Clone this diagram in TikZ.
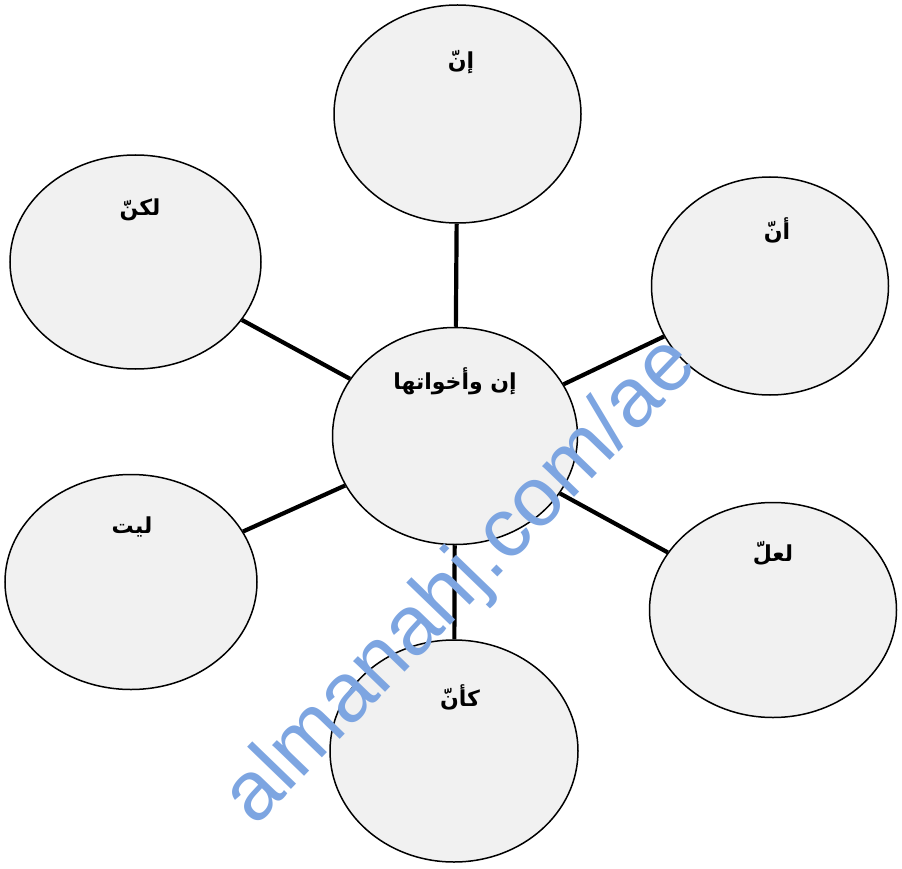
\documentclass[tikz,border=0pt]{standalone}
\usepackage{fontspec}
\usetikzlibrary{shapes.geometric}
\setmainfont{Liberation Sans}
\newfontfamily\arabicfont[Script=Arabic]{DejaVu Sans}
\TeXXeTstate=1
\definecolor{wm}{RGB}{125,165,225}
\definecolor{bub}{RGB}{241,241,241}
\begin{document}
\begin{tikzpicture}[x=1pt,y=-1pt,
  bubble/.style={ellipse, draw=black, line width=1.5pt, fill=bub, inner sep=0pt},
  link/.style={line width=4.2pt},
  lbl/.style={font=\arabicfont\bfseries\fontsize{22}{26}\selectfont, inner sep=0pt}]
\useasboundingbox (0,0) rectangle (902,869);
\fill[white] (0,0) rectangle (902,869);
% bubbles
\node[bubble, minimum width=247pt, minimum height=218pt] (t)  at (457.5,114) {};
\node[bubble, minimum width=251pt, minimum height=214pt] (ul) at (135.5,262) {};
\node[bubble, minimum width=237pt, minimum height=218pt] (ur) at (770,286) {};
\node[bubble, minimum width=245pt, minimum height=217pt] (c)  at (455,436) {};
\node[bubble, minimum width=252pt, minimum height=215pt] (ll) at (131,582) {};
\node[bubble, minimum width=247pt, minimum height=215pt] (lr) at (773,610) {};
\node[bubble, minimum width=248pt, minimum height=222pt] (b)  at (454,751) {};
% connectors
\draw[link] (c) -- (t);
\draw[link] (c) -- (ul);
\draw[link] (c) -- (ur);
\draw[link] (c) -- (ll);
\draw[link] (c) -- (lr);
\draw[link] (c) -- (b);
% labels
\node[lbl] (tl)  at (461,62)  {\beginR إنّ\endR};
\node[lbl] (ull) at (140,210) {\beginR لكنّ\endR};
\node[lbl] (url) at (777,230) {\beginR أنّ\endR};
\node[lbl] (cl)  at (455,381) {\beginR إن وأخواتها\endR};
\node[lbl] (lll) at (132,527) {\beginR ليت\endR};
\node[lbl] (lrl) at (773,553) {\beginR لعلّ\endR};
\node[lbl] (bl)  at (460,697) {\beginR كأنّ\endR};
% watermark
\node[text=wm, font=\fontsize{84}{90}\selectfont, rotate=46, inner sep=0pt] (wmk) at (462,582) {almanahj.com/ae};
\end{tikzpicture}
\end{document}
